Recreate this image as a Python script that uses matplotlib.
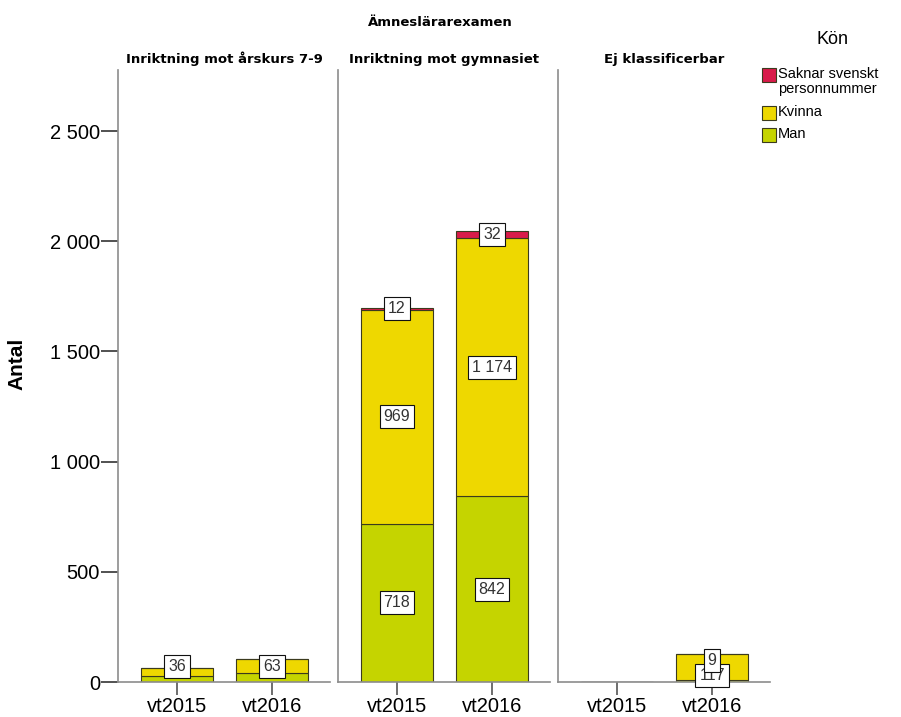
import matplotlib
matplotlib.use("Agg")
import matplotlib.pyplot as plt
from matplotlib.patches import Rectangle
from matplotlib.ticker import FuncFormatter

# data
terms = ["vt2015", "vt2016"]
panels = ["Inriktning mot årskurs 7-9", "Inriktning mot gymnasiet", "Ej klassificerbar"]
man = [[27, 41], [718, 842], [0, 9]]
kvinna = [[36, 63], [969, 1174], [0, 117]]
saknar = [[0, 0], [12, 32], [0, 0]]
legend_labels = ["Saknar svenskt\npersonnummer", "Kvinna", "Man"]

c_man = "#c5d400"
c_kvinna = "#eed800"
c_saknar = "#d81b4a"
edge = "#3b3a1e"
axis_grey = "#8c8c8c"

plt.rcParams["font.family"] = ["Liberation Sans", "DejaVu Sans"]

W, H = 901, 717
fig = plt.figure(figsize=(W / 100, H / 100), dpi=100)

ymax = 2777
lefts = [118, 338, 558]
pw = 212
bottom, top = 682, 70


def fmt(v, pos=None):
    return f"{v:,.0f}".replace(",", " ")


def label(ax, x, y, v, z=5):
    ax.text(x, y, fmt(v), ha="center", va="center", fontsize=11.5, color="#333333",
            zorder=z, bbox=dict(boxstyle="square,pad=0.25", fc="white", ec="#111111", lw=0.8))


axes = []
for i, name in enumerate(panels):
    ax = fig.add_axes([lefts[i] / W, (H - bottom) / H, pw / W, (bottom - top) / H])
    axes.append(ax)
    x = [0, 1]
    ax.bar(x, man[i], width=0.76, color=c_man, edgecolor=edge, lw=0.8, zorder=2)
    ax.bar(x, kvinna[i], width=0.76, bottom=man[i], color=c_kvinna, edgecolor=edge, lw=0.8, zorder=2)
    tot = [m + k for m, k in zip(man[i], kvinna[i])]
    ax.bar(x, saknar[i], width=0.76, bottom=tot, color=c_saknar, edgecolor=edge, lw=0.8, zorder=2)

    for j in x:
        m, k, s = man[i][j], kvinna[i][j], saknar[i][j]
        if i == 1:
            label(ax, j, m / 2, m)
            label(ax, j, m + k / 2, k)
            label(ax, j, m + k + s / 2, s)
        elif i == 0:
            label(ax, j, max(m + k / 2, 72), k)
        elif i == 2 and m + k > 0:
            # crowded labels, the small one sits on top as in the original
            label(ax, j, 28, k, z=4)
            label(ax, j, 98, m, z=6)

    ax.set_xlim(-0.62, 1.61)
    ax.set_ylim(0, ymax)
    ax.set_xticks(x)
    ax.set_xticklabels(terms, fontsize=14.5)
    ax.tick_params(axis="x", length=9, width=1.2, color="#555555", pad=2)
    for sp in ["top", "right"]:
        ax.spines[sp].set_visible(False)
    for sp in ["left", "bottom"]:
        ax.spines[sp].set_color(axis_grey)
        ax.spines[sp].set_linewidth(1.2)
    ax.set_title(name, fontsize=9.5, fontweight="bold", family="DejaVu Sans", pad=5)
    if i == 0:
        ax.set_yticks([0, 500, 1000, 1500, 2000, 2500])
        ax.yaxis.set_major_formatter(FuncFormatter(fmt))
        ax.tick_params(axis="y", length=12, width=1.2, color="#333333", labelsize=14.5, pad=1)
        ax.set_ylabel("Antal", fontsize=15, fontweight="bold")
        ax.yaxis.set_label_coords(-0.43, 0.52)
    else:
        ax.set_yticks([])

fig.text(440 / W, 1 - 23 / H, "Ämneslärarexamen", ha="center", va="center",
         fontsize=9.5, fontweight="bold", family="DejaVu Sans")

# legend
fig.text(833 / W, 1 - 40 / H, "Kön", ha="center", va="center", fontsize=13)
leg_y = [75, 113, 135]
for lab, c, yy in zip(legend_labels, [c_saknar, c_kvinna, c_man], leg_y):
    fig.patches.append(Rectangle((762 / W, 1 - (yy + 7) / H), 14 / W, 14 / H,
                                 transform=fig.transFigure, fc=c, ec=edge, lw=0.8))
    fig.text(778 / W, 1 - (yy - 8) / H, lab, ha="left", va="top", fontsize=10.5,
             linespacing=1.05)

fig.savefig("out.png", dpi=100)
